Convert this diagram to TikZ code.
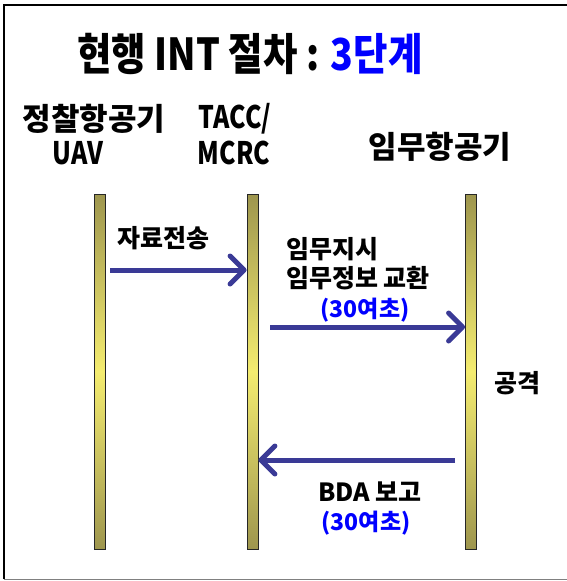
\documentclass[tikz,border=0pt]{standalone}
\usepackage{fontspec}
\setmainfont{Noto Sans CJK KR}
\newfontfamily\narrowlat{Noto Sans CJK KR}[FakeStretch=0.8]
\newfontfamily\titlefont{Noto Sans CJK KR}[FakeStretch=0.85]
\usetikzlibrary{arrows.meta}
\definecolor{arrowblue}{RGB}{58,58,150}
\definecolor{barolive}{RGB}{158,150,78}
\definecolor{baryellow}{RGB}{244,236,112}
\tikzset{
  lifebar/.style={draw=black!85, line width=0.8pt, minimum width=11pt, minimum height=355pt,
    inner sep=0pt, top color=barolive, bottom color=barolive, middle color=baryellow},
  msg/.style={draw=arrowblue, line width=5pt, -{Straight Barb[length=14pt,width=28pt,round]}},
  lbl/.style={font=\bfseries\fontsize{25}{30}\selectfont, inner sep=0pt, align=center},
  hdr/.style={font=\bfseries\fontsize{31}{34}\selectfont, inner sep=0pt, align=center},
  note/.style={font=\bfseries\fontsize{23}{26}\selectfont, text=blue, inner sep=0pt}
}
\begin{document}
\begin{tikzpicture}[x=1pt,y=-1pt]
\useasboundingbox (0,0) rectangle (566,581);
% frame
\draw[gray, line width=1pt] (4,579) -- (570,579);
\draw[black, line width=2pt] (4,579) -- (4,5) -- (570,5);
% title
\node[inner sep=0pt] (title) at (250,54) {\titlefont\bfseries\fontsize{44}{48}\selectfont 현행 INT 절차 : \textcolor{blue}{3단계}};
% headers
\node[hdr] (h1a) at (94,119) {정찰항공기};
\node[hdr] (h1b) at (78,153) {\narrowlat UAV};
\node[hdr] (h2a) at (235,119) {\narrowlat TACC/};
\node[hdr] (h2b) at (234,153) {\narrowlat MCRC};
\node[hdr] (h3) at (440,147) {임무항공기};
% bars
\node[lifebar] (bar1) at (99.5,371.5) {};
\node[lifebar] (bar2) at (252.5,371.5) {};
\node[lifebar] (bar3) at (471,371.5) {};
% message 1
\coordinate (y1) at (0,270);
\draw[msg] ([xshift=5pt]bar1.east |- y1) -- (bar2.west |- y1);
\node[lbl] (m1) at (163,238) {자료전송};
% message 2
\coordinate (y2) at (0,327);
\draw[msg] ([xshift=12pt]bar2.east |- y2) -- (bar3.west |- y2);
\node[lbl, anchor=west] (m2a) at (286,249) {임무지시};
\node[lbl, anchor=west] (m2b) at (286,278) {임무정보 교환};
\node[note] (m2c) at (365,310) {(30여초)};
% attack
\node[lbl] (atk) at (517,383) {공격};
% message 3
\coordinate (y3) at (0,460);
\draw[msg] ([xshift=-10pt]bar3.west |- y3) -- (bar2.east |- y3);
\node[lbl] (m3a) at (370,492) {BDA 보고};
\node[note] (m3b) at (366,523) {(30여초)};
\end{tikzpicture}
\end{document}
